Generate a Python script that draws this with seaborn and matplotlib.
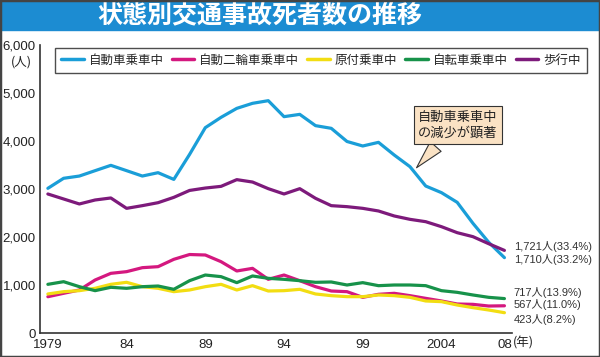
import numpy as np
import pandas as pd
import matplotlib
matplotlib.use("Agg")
import matplotlib.pyplot as plt
import seaborn as sns
from matplotlib.lines import Line2D
from matplotlib.patches import Rectangle

# data
years = list(range(1979, 2009))
car = [3014, 3223, 3270, 3382, 3493, 3382, 3270, 3340, 3200, 3720,
       4278, 4493, 4680, 4785, 4840, 4507, 4555, 4320, 4264, 3990,
       3896, 3972, 3708, 3465, 3062, 2924, 2722, 2285, 1890, 1570]
moto = [756, 827, 896, 1104, 1243, 1278, 1361, 1382, 1535, 1635,
        1625, 1486, 1292, 1347, 1118, 1208, 1090, 965, 875, 861,
        743, 806, 827, 778, 722, 667, 604, 597, 562, 567]
moped = [813, 861, 882, 931, 1014, 1056, 965, 931, 861, 896,
         965, 1014, 896, 986, 875, 882, 910, 813, 778, 757,
         757, 792, 778, 743, 667, 653, 583, 528, 479, 423]
bike = [1014, 1069, 965, 882, 952, 931, 965, 979, 910, 1090,
        1208, 1174, 1049, 1188, 1139, 1118, 1090, 1056, 1063, 1000,
        1049, 986, 1000, 1000, 986, 882, 847, 792, 743, 717]
walk = [2896, 2792, 2688, 2771, 2813, 2597, 2653, 2715, 2826, 2970,
        3020, 3055, 3195, 3145, 3007, 2896, 3007, 2806, 2653, 2632,
        2597, 2542, 2438, 2368, 2319, 2215, 2090, 2007, 1860, 1721]

series = ["自動車乗車中", "自動二輪車乗車中", "原付乗車中", "自転車乗車中", "歩行中"]
colors = ["#1a9ed8", "#d4187f", "#f2dd12", "#17924a", "#7d1a7b"]

end_labels = ["1,721人(33.4%)", "1,710人(33.2%)", "717人(13.9%)", "567人(11.0%)", "423人(8.2%)"]
end_label_y = [1795, 1524, 835, 585, 271]

xtick_pos = [1979, 1984, 1989, 1994, 1999, 2004, 2008]
xtick_lab = ["1979", "84", "89", "94", "99", "2004", "08"]
ytick_pos = [0, 1000, 2000, 3000, 4000, 5000, 6000]
ytick_lab = ["0", "1,000", "2,000", "3,000", "4,000", "5,000", "6,000"]

df = pd.DataFrame({"year": years, series[0]: car, series[1]: moto,
                   series[2]: moped, series[3]: bike, series[4]: walk})
long = df.melt(id_vars="year", var_name="state", value_name="deaths")

sns.set_theme(style="white")
plt.rcParams["font.family"] = ["Noto Sans CJK JP", "DejaVu Sans"]
num_font = ["Liberation Sans", "Noto Sans CJK JP"]

fig = plt.figure(figsize=(6, 3.57), dpi=100)
ax = fig.add_axes([40 / 600, 24 / 357, 472.3 / 600, 288 / 357])

sns.lineplot(data=long, x="year", y="deaths", hue="state", hue_order=series,
             palette=colors, linewidth=2.3, legend=False, ax=ax)

ax.set_xlim(1978.5, 2008.5)
ax.set_ylim(0, 6000)
ax.set_xlabel("")
ax.set_ylabel("")
for s in ["top", "right"]:
    ax.spines[s].set_visible(False)
for s in ["left", "bottom"]:
    ax.spines[s].set_color("#333333")
    ax.spines[s].set_linewidth(1.2)

ax.set_xticks(xtick_pos)
ax.set_xticklabels(xtick_lab, fontsize=9.5, family=num_font, color="#222222")
ax.set_xticks(np.arange(1979.5, 2009, 1), minor=True)
ax.tick_params(axis="x", which="major", length=0, pad=4)
ax.tick_params(axis="x", which="minor", direction="in", length=6, width=1, color="#333333")
ax.set_yticks(ytick_pos)
ax.set_yticklabels(ytick_lab, fontsize=9.5, family=num_font, color="#222222")
ax.tick_params(axis="y", direction="in", length=5, width=1, color="#333333", pad=3)

ax.text(2008.55, -215, "(年)", fontsize=9, ha="left", va="center", color="#222222", clip_on=False)
fig.text(21 / 600, 1 - 62 / 357, "(人)", fontsize=9, ha="center", va="center", color="#222222")

for lab, yv in zip(end_labels, end_label_y):
    ax.text(2008.6, yv, lab, fontsize=8, ha="left", va="center", color="#333333",
            family=num_font, clip_on=False)

ax.annotate("自動車乗車中\nの減少が顕著", xy=(2002.3, 3400), xytext=(2005.05, 4330),
            ha="center", va="center", fontsize=9.5, color="#222222", linespacing=1.25,
            bbox=dict(boxstyle="square,pad=0.35", fc="#fae2c4", ec="#333333", lw=0.8),
            arrowprops=dict(arrowstyle="wedge,tail_width=1.1,shrink_factor=0.5",
                            fc="#fae2c4", ec="#333333", lw=0.8, relpos=(0.3, 0.0)))

handles = [Line2D([0], [0], color=c, lw=2.5) for c in colors]
fig.legend(handles, series, loc="lower left", ncol=5, mode="expand",
           bbox_to_anchor=(55 / 600, 1 - 73 / 357, 532 / 600, 28 / 357),
           frameon=True, fancybox=False, edgecolor="#222222", fontsize=9,
           handlelength=1.8, handletextpad=0.4, borderaxespad=0, borderpad=0.5)
fig.legends[0].get_frame().set_linewidth(1)

# title banner and frame
fig.patches.append(Rectangle((0, 1 - 30 / 357), 1, 30 / 357, transform=fig.transFigure,
                             color="#1c8cd2", zorder=0))
fig.text(260 / 600, 1 - 16 / 357, "状態別交通事故死者数の推移", fontsize=18, fontweight="bold",
         color="white", ha="center", va="center")
fig.patches.append(Rectangle((0, 0), 1, 1, transform=fig.transFigure, fill=False,
                             ec="#444444", lw=2.5, zorder=5))

fig.savefig("out.png", dpi=100)
